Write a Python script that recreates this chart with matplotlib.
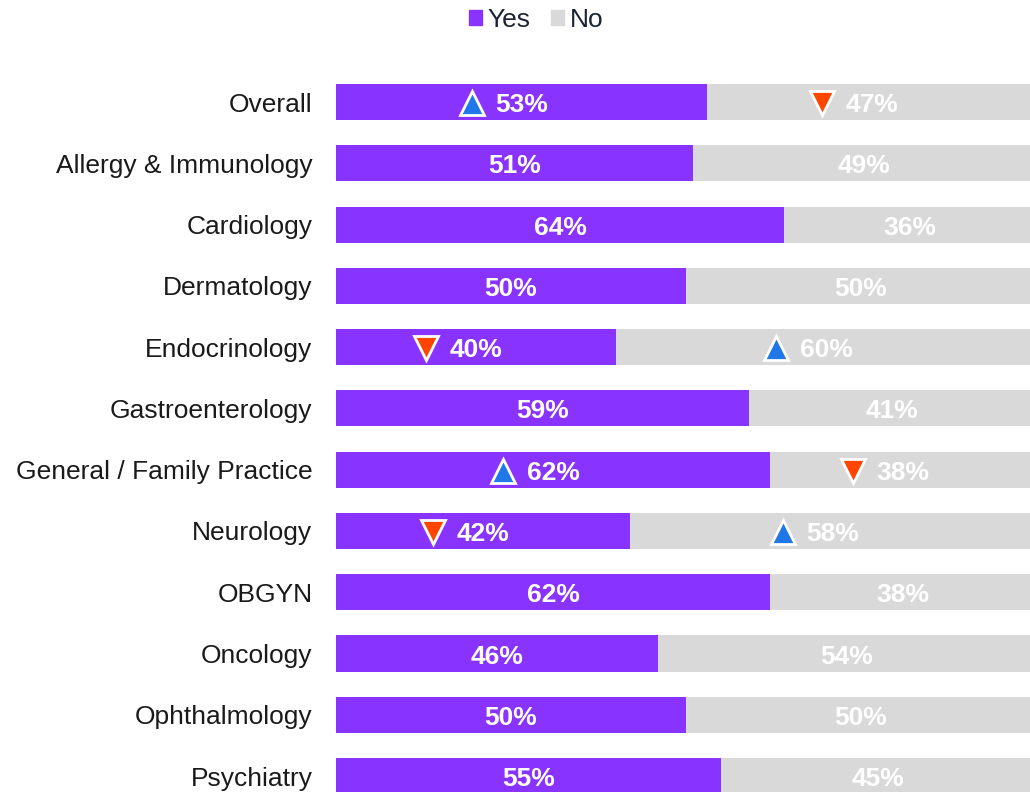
import matplotlib
matplotlib.use("Agg")
import matplotlib.pyplot as plt
from matplotlib.patches import Patch
from matplotlib.transforms import offset_copy

plt.rcParams['font.family'] = ['Liberation Sans', 'DejaVu Sans']

categories = ["Overall", "Allergy & Immunology", "Cardiology", "Dermatology",
              "Endocrinology", "Gastroenterology", "General / Family Practice",
              "Neurology", "OBGYN", "Oncology", "Ophthalmology", "Psychiatry"]
yes_vals = [53, 51, 64, 50, 40, 59, 62, 42, 62, 46, 50, 55]
no_vals = [47, 49, 36, 50, 60, 41, 38, 58, 38, 54, 50, 45]
# significance markers: 'up', 'down' or None
yes_sig = ['up', None, None, None, 'down', None, 'up', 'down', None, None, None, None]
no_sig = ['down', None, None, None, 'up', None, 'down', 'up', None, None, None, None]

YES_C = "#8833FF"
NO_C = "#D9D9D9"
UP_C = "#1F77E8"
DOWN_C = "#FF4500"

W, H = 1030, 792
fig = plt.figure(figsize=(W / 100, H / 100), dpi=100)
top_px = 71.4
ax = fig.add_axes([336 / W, 0, 700 / W, (H - top_px) / H])

y = list(range(len(categories)))
ax.barh(y, yes_vals, height=0.59, color=YES_C, label="Yes")
ax.barh(y, no_vals, left=yes_vals, height=0.59, color=NO_C, label="No")
ax.set_xlim(0, 100)
ax.set_ylim(11.26, -0.5)
ax.set_yticks(y)
ax.set_yticklabels(categories, fontsize=19, color="#1a1a1a")
ax.tick_params(axis='y', length=0, pad=17)
ax.set_xticks([])
for s in ax.spines.values():
    s.set_visible(False)

tri_tr = offset_copy(ax.transData, fig=fig, x=-50, y=-1, units='dots')
txt_tr = offset_copy(ax.transData, fig=fig, x=0, y=-3, units='dots')

def draw_marker(xc, yc, kind):
    if kind is None:
        return
    marker = '^' if kind == 'up' else 'v'
    col = UP_C if kind == 'up' else DOWN_C
    ax.plot([xc], [yc], marker=marker, markersize=17, color=col,
            markeredgecolor='white', markeredgewidth=2,
            transform=tri_tr, clip_on=False, zorder=5)

for i in y:
    yc = yes_vals[i] / 2
    nc = yes_vals[i] + no_vals[i] / 2
    ax.text(yc, i, f"{yes_vals[i]}%", ha='center', va='center', color='white',
            fontsize=19, fontweight='bold', zorder=6, transform=txt_tr)
    ax.text(nc, i, f"{no_vals[i]}%", ha='center', va='center', color='white',
            fontsize=19, fontweight='bold', zorder=6, transform=txt_tr)
    draw_marker(yc, i, yes_sig[i])
    draw_marker(nc, i, no_sig[i])

handles = [Patch(color=YES_C, label="Yes"), Patch(color=NO_C, label="No")]
fig.legend(handles=handles, loc='center', bbox_to_anchor=(536 / W, 1 - 20 / H),
           ncol=2, frameon=False, fontsize=19, handlelength=0.5, handleheight=0.5,
           handletextpad=0.2, columnspacing=0.8, labelcolor="#1C2333")

fig.savefig("out.png", dpi=100)
